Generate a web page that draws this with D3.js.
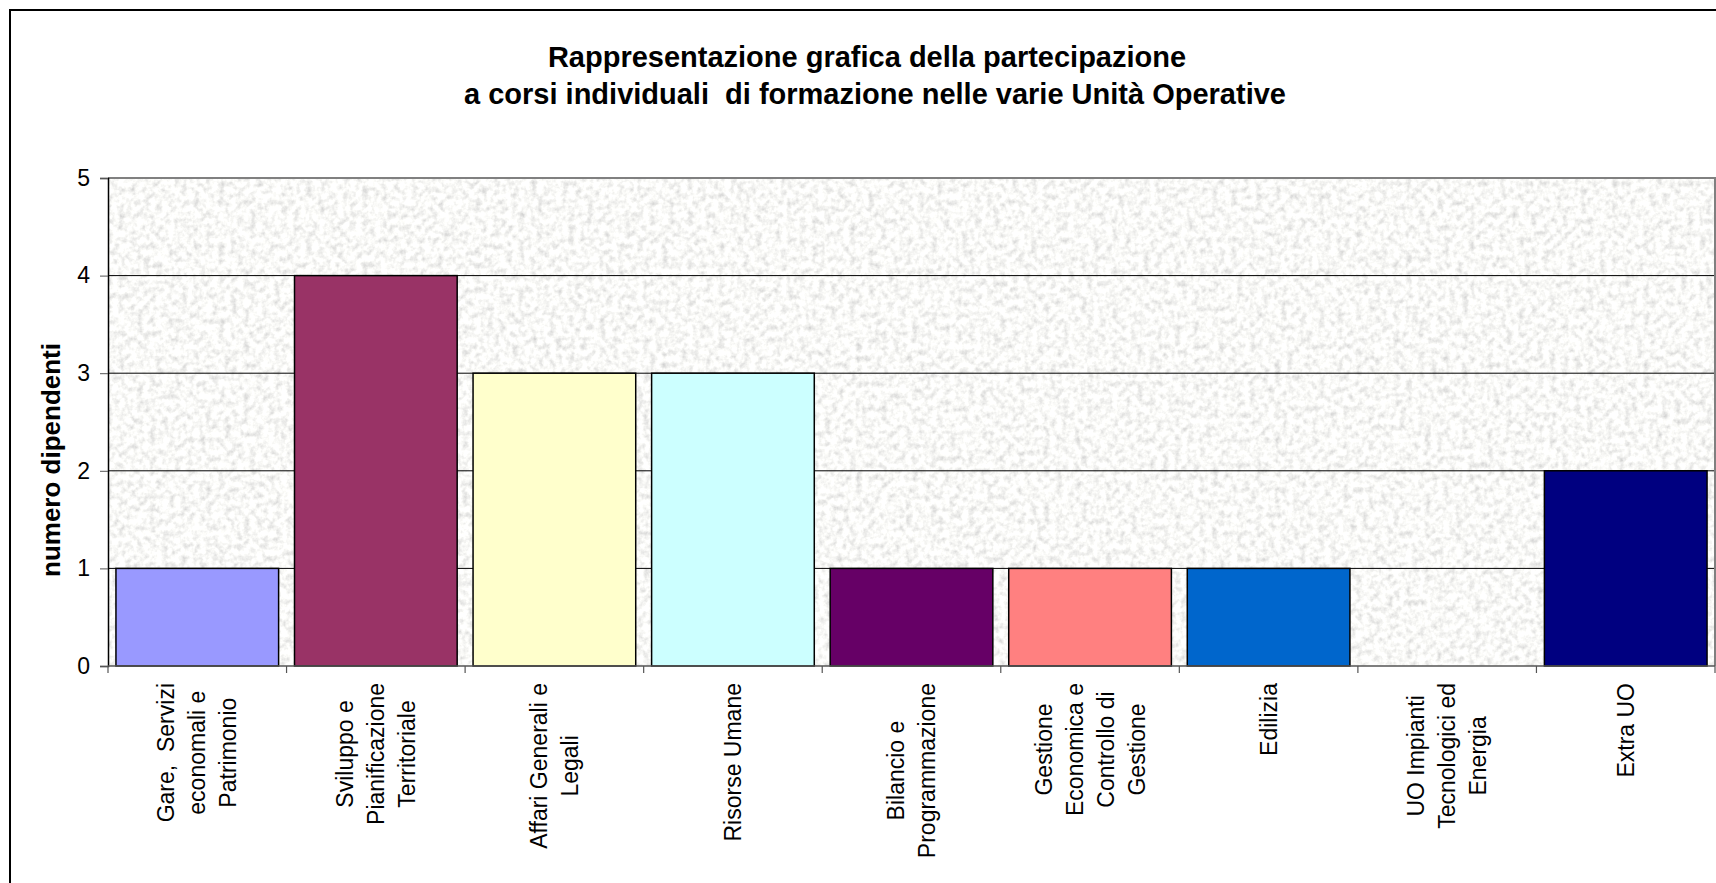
<!DOCTYPE html>
<html>
<head>
<meta charset="utf-8">
<title>Partecipazione corsi individuali</title>
<script src="https://d3js.org/d3.v7.min.js"></script>
<style>
  body { margin: 0; background: #fff; }
  text { font-family: Arial, "Liberation Sans", sans-serif; white-space: pre; }
</style>
</head>
<body>
<div id="chart"></div>
<script>
// dati
var categorie = [
  ["Gare,  Servizi", "economali e", "Patrimonio"],
  ["Sviluppo e", "Pianificazione", "Territoriale"],
  ["Affari Generali e", "Legali"],
  ["Risorse Umane"],
  ["Bilancio e", "Programmazione"],
  ["Gestione", "Economica e", "Controllo di", "Gestione"],
  ["Edilizia"],
  ["UO Impianti", "Tecnologici ed", "Energia"],
  ["Extra UO"]
];
var valori = [1, 4, 3, 3, 1, 1, 1, 0, 2];
var colori = ["#9999ff", "#993366", "#ffffcc", "#ccffff", "#660066", "#ff8080", "#0066cc", "#ccccff", "#000080"];
var yTicks = [0, 1, 2, 3, 4, 5];
var titolo = ["Rappresentazione grafica della partecipazione",
              "a corsi individuali  di formazione nelle varie Unità Operative"];
var yLabel = "numero dipendenti";

var W = 1716, H = 883;
var plot = {left: 108, right: 1715, top: 178, bottom: 666};

var svg = d3.select("#chart").append("svg")
  .attr("width", W).attr("height", H);

// texture granito per lo sfondo dell'area del tracciato
var defs = svg.append("defs");
var f = defs.append("filter").attr("id", "granito")
  .attr("x", 0).attr("y", 0).attr("width", 1).attr("height", 1);
f.append("feTurbulence").attr("type", "fractalNoise")
  .attr("baseFrequency", 0.16).attr("numOctaves", 3).attr("seed", 4).attr("result", "n");
f.append("feColorMatrix").attr("in", "n").attr("type", "matrix")
  .attr("values", "0.7 0 0 0 0.6  0.7 0 0 0 0.6  0.66 0 0 0 0.6  0 0 0 0 1")
  .attr("result", "g");
f.append("feComposite").attr("in", "g").attr("in2", "SourceAlpha").attr("operator", "in");

// bordo esterno
svg.append("rect")
  .attr("x", 10).attr("y", 10).attr("width", W).attr("height", H)
  .attr("fill", "#fff").attr("stroke", "#000").attr("stroke-width", 2);

var x = d3.scaleBand()
  .domain(d3.range(categorie.length))
  .range([plot.left, plot.right])
  .paddingInner(0.089).paddingOuter(0.0445);

var y = d3.scaleLinear().domain([0, 5]).range([plot.bottom, plot.top]);

svg.append("rect")
  .attr("x", plot.left).attr("y", plot.top)
  .attr("width", plot.right - plot.left).attr("height", plot.bottom - plot.top)
  .attr("fill", "#eee").attr("filter", "url(#granito)");

// griglia
svg.append("g").selectAll("line")
  .data(yTicks.filter(function(d) { return d > 0 && d < 5; }))
  .enter().append("line")
  .attr("x1", plot.left).attr("x2", plot.right)
  .attr("y1", function(d) { return y(d); }).attr("y2", function(d) { return y(d); })
  .attr("stroke", "#000").attr("stroke-width", 1);

// bordo area tracciato (grigio)
svg.append("path")
  .attr("d", "M" + plot.left + "," + y(5) + "H" + plot.right + "V" + y(0))
  .attr("fill", "none").attr("stroke", "#808080").attr("stroke-width", 2);

// barre
svg.append("g").selectAll("rect")
  .data(valori.map(function(v, i) { return {i: i, v: v}; }).filter(function(d) { return d.v > 0; }))
  .enter().append("rect")
  .attr("x", function(d) { return x(d.i); })
  .attr("width", x.bandwidth())
  .attr("y", function(d) { return y(d.v); })
  .attr("height", function(d) { return y(0) - y(d.v); })
  .attr("fill", function(d) { return colori[d.i]; })
  .attr("stroke", "#000").attr("stroke-width", 1.5);

// asse Y
var assey = d3.axisLeft(y).tickValues(yTicks).tickFormat(d3.format("d")).tickSize(8).tickPadding(10);
var gy = svg.append("g").attr("transform", "translate(" + plot.left + ",0)").call(assey);
gy.select(".domain").attr("stroke", "#000").attr("stroke-width", 1.5);
gy.selectAll(".tick line").attr("stroke", "#555");
gy.selectAll("text").attr("font-size", 23).attr("fill", "#000");

// asse X: linea di base e tacche ai confini delle categorie
svg.append("line")
  .attr("x1", plot.left).attr("x2", plot.right)
  .attr("y1", y(0)).attr("y2", y(0))
  .attr("stroke", "#555").attr("stroke-width", 1.5);
svg.append("g").selectAll("line")
  .data(d3.range(categorie.length + 1))
  .enter().append("line")
  .attr("x1", function(i) { return plot.left + i * x.step(); })
  .attr("x2", function(i) { return plot.left + i * x.step(); })
  .attr("y1", y(0)).attr("y2", y(0) + 7)
  .attr("stroke", "#555").attr("stroke-width", 1.2);

// etichette categorie ruotate (righe centrate, blocco allineato in alto)
var topEtichette = 683, interlinea = 31;
categorie.forEach(function(righe, i) {
  var cx = x(i) + x.bandwidth() / 2;
  var g = svg.append("g");
  var testi = righe.map(function(r) {
    return g.append("text")
      .attr("font-size", 23).attr("fill", "#000")
      .attr("text-anchor", "middle")
      .attr("dy", "0.35em")
      .text(r);
  });
  var maxW = d3.max(testi, function(t) { return t.node().getComputedTextLength(); });
  g.attr("transform", "translate(" + cx + "," + (topEtichette + maxW / 2) + ") rotate(-90)");
  testi.forEach(function(t, k) {
    t.attr("y", (k - (righe.length - 1) / 2) * interlinea);
  });
});

// titolo
svg.append("text")
  .attr("x", 867).attr("y", 67)
  .attr("text-anchor", "middle").attr("font-size", 29).attr("font-weight", "bold")
  .text(titolo[0]);
svg.append("text")
  .attr("x", 875).attr("y", 104)
  .attr("text-anchor", "middle").attr("font-size", 29).attr("font-weight", "bold")
  .text(titolo[1]);

// titolo asse Y
svg.append("text")
  .attr("transform", "translate(51,460) rotate(-90)")
  .attr("text-anchor", "middle").attr("dy", "0.35em")
  .attr("font-size", 26).attr("font-weight", "bold")
  .text(yLabel);
</script>
</body>
</html>
